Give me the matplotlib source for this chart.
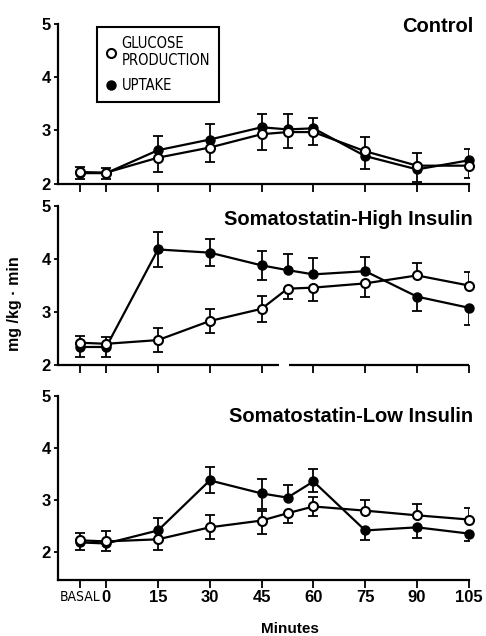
import numpy as np
import matplotlib
matplotlib.use("Agg")
import matplotlib.pyplot as plt
from matplotlib.lines import Line2D

plt.rcParams['font.family'] = ['Liberation Sans', 'DejaVu Sans']
plt.rcParams['font.weight'] = 'bold'

nan = np.nan

# minutes (BASAL drawn at -7.5)
minutes = [-7.5, 0, 15, 30, 45, 52.5, 60, 75, 90, 105]
tick_pos = [-7.5, 0, 15, 30, 45, 60, 75, 90, 105]
tick_labels = ["BASAL", "0", "15", "30", "45", "60", "75", "90", "105"]

titles = ["Control", "Somatostatin-High Insulin", "Somatostatin-Low Insulin"]

# Control
ctl_prod = [2.22, 2.21, 2.49, 2.68, 2.93, 2.97, 2.97, 2.61, 2.34, 2.34]
ctl_prod_lo = [0.13, 0.12, 0.26, 0.28, 0.30, 0.29, 0.25, nan, nan, 0.23]
ctl_prod_hi = [nan, nan, nan, nan, nan, nan, nan, 0.26, 0.23, nan]
ctl_upt = [2.20, 2.20, 2.63, 2.83, 3.06, 3.02, 3.04, 2.52, 2.27, 2.44]
ctl_upt_lo = [nan, nan, nan, nan, nan, nan, nan, 0.25, 0.23, nan]
ctl_upt_hi = [0.12, 0.10, 0.26, 0.29, 0.25, 0.29, 0.19, nan, nan, 0.22]

# Somatostatin - high insulin
hi_prod = [2.42, 2.40, 2.47, 2.83, 3.06, 3.44, 3.46, 3.54, 3.69, 3.50]
hi_prod_lo = [nan, nan, 0.23, 0.22, 0.25, 0.19, 0.25, 0.25, nan, nan]
hi_prod_hi = [0.12, 0.12, 0.23, 0.22, 0.25, nan, nan, nan, 0.23, 0.26]
hi_upt = [2.34, 2.34, 4.18, 4.12, 3.88, 3.79, 3.71, 3.77, 3.29, 3.08]
hi_upt_lo = [0.18, 0.18, 0.33, 0.26, 0.28, nan, nan, nan, 0.27, 0.32]
hi_upt_hi = [nan, nan, 0.33, 0.26, 0.28, 0.30, 0.30, 0.26, nan, nan]

# Somatostatin - low insulin
lo_prod = [2.23, 2.21, 2.25, 2.48, 2.61, 2.75, 2.88, 2.80, 2.71, 2.63]
lo_prod_lo = [nan, nan, 0.21, 0.23, 0.25, 0.18, 0.19, nan, nan, nan]
lo_prod_hi = [0.15, 0.19, nan, 0.23, 0.19, nan, 0.19, 0.21, 0.21, 0.23]
lo_upt = [2.19, 2.17, 2.42, 3.38, 3.13, 3.05, 3.36, 2.42, 2.48, 2.36]
lo_upt_lo = [0.15, 0.15, nan, 0.25, 0.30, nan, 0.21, 0.19, 0.21, 0.15]
lo_upt_hi = [nan, nan, 0.23, 0.25, 0.27, 0.25, 0.23, nan, nan, nan]

panels = [
    (ctl_prod, ctl_prod_lo, ctl_prod_hi, ctl_upt, ctl_upt_lo, ctl_upt_hi),
    (hi_prod, hi_prod_lo, hi_prod_hi, hi_upt, hi_upt_lo, hi_upt_hi),
    (lo_prod, lo_prod_lo, lo_prod_hi, lo_upt, lo_upt_lo, lo_upt_hi),
]

fig = plt.figure(figsize=(4.86, 6.36), dpi=100)
rects = [[0.119, 0.711, 0.8457, 0.2516],
         [0.119, 0.4261, 0.8457, 0.25],
         [0.119, 0.0881, 0.8457, 0.2893]]
ylims = [(2, 5), (2, 5), (1.47, 5)]
title_y = [4.95, 4.75, 4.6]
narrow = {'family': 'DejaVu Sans', 'stretch': 'condensed', 'weight': 'normal'}


def errbars(ax, x, y, lo, hi):
    x = np.array(x); y = np.array(y)
    lo = np.array(lo); hi = np.array(hi)
    ax.vlines(x, y - np.nan_to_num(lo), y + np.nan_to_num(hi), color='k', lw=1.3, zorder=2)
    ax.plot(x, y - lo, ls='none', marker='_', ms=7.5, mew=1.3, color='k', zorder=2)
    ax.plot(x, y + hi, ls='none', marker='_', ms=7.5, mew=1.3, color='k', zorder=2)


for i, (ax_rect, data) in enumerate(zip(rects, panels)):
    prod, prod_lo, prod_hi, upt, upt_lo, upt_hi = data
    ax = fig.add_axes(ax_rect)
    errbars(ax, minutes, upt, upt_lo, upt_hi)
    errbars(ax, minutes, prod, prod_lo, prod_hi)
    ax.plot(minutes, upt, '-o', color='k', mfc='k', ms=6.5, lw=1.6, zorder=3, clip_on=False)
    ax.plot(minutes, prod, '-o', color='k', mfc='white', mew=1.5, ms=6.5, lw=1.6, zorder=4, clip_on=False)

    ax.set_xlim(-14, 105)
    ax.set_ylim(*ylims[i])
    ax.set_yticks([2, 3, 4, 5])
    ax.set_xticks(tick_pos)
    for s in ['top', 'right']:
        ax.spines[s].set_visible(False)
    ax.spines['left'].set_linewidth(1.6)
    ax.spines['bottom'].set_linewidth(1.6)
    ax.tick_params(axis='x', direction='out', length=6, width=1.3, pad=1, labelsize=12)
    ax.tick_params(axis='y', direction='out', length=3, width=1.3, pad=2, labelsize=12)
    if i < 2:
        ax.tick_params(axis='x', labelbottom=False)
    ax.text(1.01, title_y[i], titles[i], transform=ax.get_yaxis_transform(),
            ha='right', va='center', fontsize=14.5, fontweight='bold')

    if i == 1:
        # break in the time axis
        ax.spines['bottom'].set_visible(False)
        ax.plot([-14, 50], [2, 2], color='k', lw=1.6, clip_on=False, solid_capstyle='butt')
        ax.plot([53, 105], [2, 2], color='k', lw=1.6, clip_on=False, solid_capstyle='butt')

    if i == 0:
        handles = [Line2D([], [], ls='none', marker='o', mfc='white', mec='k', mew=1.5, ms=6.5),
                   Line2D([], [], ls='none', marker='o', mfc='k', mec='k', ms=6.5)]
        leg = ax.legend(handles, ["GLUCOSE\nPRODUCTION", "UPTAKE"], loc='upper left',
                        bbox_to_anchor=(0.095, 0.98), borderaxespad=0, fancybox=False,
                        edgecolor='k', framealpha=1, handlelength=0.8, handletextpad=0.3,
                        labelspacing=0.7, borderpad=0.6,
                        prop=dict(narrow, size=10.5))
        leg.get_frame().set_linewidth(1.5)

    if i == 2:
        ax.set_xticklabels(tick_labels)
        first = ax.get_xticklabels()[0]
        first.set_fontsize(10)
        first.set_fontweight('normal')
        first.set_family('DejaVu Sans')
        first.set_stretch('condensed')

fig.text(15 / 486, 1 - 304 / 636, "mg /kg · min", rotation=90, ha='center', va='center',
         fontsize=11.5, fontweight='bold')
fig.text(290 / 486, 1 - 629 / 636, "Minutes", ha='center', va='center',
         fontsize=11, fontweight='bold')

fig.savefig("out.png", dpi=100)
